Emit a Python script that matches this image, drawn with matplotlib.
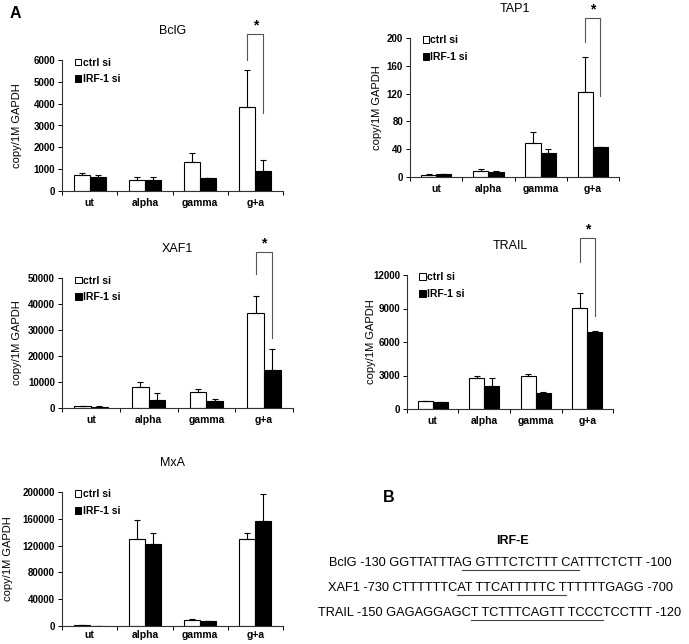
import matplotlib
matplotlib.use("Agg")
import matplotlib.pyplot as plt
import numpy as np
from matplotlib.patches import Patch

plt.rcParams['font.family'] = ['Liberation Sans', 'DejaVu Sans']

groups = ['ut', 'alpha', 'gamma', 'g+a']

# values: (ctrl mean, ctrl err, irf mean, irf err)
bclg_ctrl = [730, 520, 1350, 3830]
bclg_ctrl_err = [80, 100, 400, 1700]
bclg_irf = [640, 520, 600, 920]
bclg_irf_err = [70, 140, 0, 480]

tap1_ctrl = [3, 8, 49, 123]
tap1_ctrl_err = [1.5, 3, 16, 50]
tap1_irf = [4, 7, 34, 43]
tap1_irf_err = [0.3, 2, 7, 0.5]

xaf1_ctrl = [700, 8000, 6100, 36700]
xaf1_ctrl_err = [100, 2000, 1300, 6400]
xaf1_irf = [500, 3200, 2800, 14600]
xaf1_irf_err = [100, 2600, 800, 8200]

trail_ctrl = [720, 2800, 2980, 9020]
trail_ctrl_err = [20, 120, 120, 1370]
trail_irf = [600, 2060, 1430, 6900]
trail_irf_err = [20, 690, 110, 50]

mxa_ctrl = [800, 130500, 8400, 130500]
mxa_ctrl_err = [200, 28000, 1500, 9000]
mxa_irf = [500, 122000, 6900, 157300]
mxa_irf_err = [200, 17500, 300, 39700]

# significance brackets on g+a: (top, left leg end, right leg end)
bclg_sig = (7190, 6000, 3570)
tap1_sig = (229, 194, 117)
xaf1_sig = (60000, 51500, 26900)
trail_sig = (15300, 13160, 8330)

seq_lines = [
    ('BclG -130 ', 'GGTTATTTA', 'G GTTTCTCTTT CA', 'TTTCTCTT -100'),
    ('XAF1 -730 ', 'CTTTTTTC', 'AT TTCATTTTTC T', 'TTTTTGAGG -700'),
    ('TRAIL -150 ', 'GAGAGGAGC', 'T TCTTTCAGTT TCCC', 'TCCTTT -120'),
]

W, H = 689, 644
fig = plt.figure(figsize=(W / 100, H / 100), dpi=100)


def px_axes(x0, y0, x1, y1):
    return fig.add_axes([x0 / W, 1 - y1 / H, (x1 - x0) / W, (y1 - y0) / H])


def panel(ax, title, ctrl, ctrl_err, irf, irf_err, ymax, step, sig, ylab_px):
    x = np.arange(len(groups))
    bw = 0.29
    ax.bar(x - bw / 2, ctrl, bw, color='white', edgecolor='black', lw=0.8,
           yerr=[np.zeros(4), ctrl_err], capsize=2.5,
           error_kw=dict(elinewidth=0.8, capthick=0.8, ecolor='black'))
    ax.bar(x + bw / 2, irf, bw, color='black', edgecolor='black', lw=0.8,
           yerr=[np.zeros(4), irf_err], capsize=2.5,
           error_kw=dict(elinewidth=0.8, capthick=0.8, ecolor='black'))
    ax.set_xlim(-0.5, 3.5)
    ax.set_ylim(0, ymax)
    ax.set_yticks(np.arange(0, ymax + step / 2, step))
    ax.set_xticks(x)
    ax.set_xticklabels(groups, fontsize=7.5, fontweight='bold')
    ax.set_xticks(np.arange(-0.5, 4, 1), minor=True)
    ax.tick_params(axis='x', which='major', length=0, pad=5)
    ax.tick_params(axis='x', which='minor', length=3, width=0.7, direction='out')
    ax.tick_params(axis='y', length=3, width=0.7, labelsize=7, pad=2)
    for lb in ax.get_yticklabels():
        lb.set_fontweight('bold')
    for s in ['top', 'right']:
        ax.spines[s].set_visible(False)
    for s in ['left', 'bottom']:
        ax.spines[s].set_linewidth(0.8)
        ax.spines[s].set_color('#333333')
    ax.set_title(title, fontsize=9, pad=19)
    ax.set_ylabel('copy/1M GAPDH', fontsize=8)
    w_px = ax.get_position().width * W
    ax.yaxis.set_label_coords(-ylab_px / w_px, 0.5)
    handles = [Patch(facecolor='white', edgecolor='black', lw=0.7),
               Patch(facecolor='black', edgecolor='black', lw=0.7)]
    ax.legend(handles, ['ctrl si', 'IRF-1 si'], loc='upper left',
              bbox_to_anchor=(0.04, 1.05), frameon=False,
              prop=dict(size=7.5, weight='bold'), handlelength=0.6,
              handleheight=0.6, handletextpad=0.15, labelspacing=0.65,
              borderaxespad=0)
    if sig is not None:
        top, lft, rgt = sig
        xl, xr = 3 - bw / 2, 3 + bw / 2
        ax.plot([xl, xl, xr, xr], [lft, top, top, rgt], color='#555555',
                lw=0.8, clip_on=False)
        ax.annotate('*', xy=((xl + xr) / 2, top), xytext=(0, 1),
                    textcoords='offset points', ha='center', va='bottom',
                    fontsize=10, fontweight='bold', annotation_clip=False)


ax1 = px_axes(62, 60, 283, 191)
panel(ax1, 'BclG', bclg_ctrl, bclg_ctrl_err, bclg_irf, bclg_irf_err,
      6000, 1000, bclg_sig, 40)
ax2 = px_axes(410, 38, 619, 177)
panel(ax2, 'TAP1', tap1_ctrl, tap1_ctrl_err, tap1_irf, tap1_irf_err,
      200, 40, tap1_sig, 28)
ax3 = px_axes(62, 278, 293, 408)
panel(ax3, 'XAF1', xaf1_ctrl, xaf1_ctrl_err, xaf1_irf, xaf1_irf_err,
      50000, 10000, xaf1_sig, 40)
ax4 = px_axes(407, 275, 613, 409)
panel(ax4, 'TRAIL', trail_ctrl, trail_ctrl_err, trail_irf, trail_irf_err,
      12000, 3000, trail_sig, 31)
ax5 = px_axes(62, 492, 283, 626)
panel(ax5, 'MxA', mxa_ctrl, mxa_ctrl_err, mxa_irf, mxa_irf_err,
      200000, 40000, None, 49)
ax5.tick_params(axis='x', which='major', pad=3)

fig.text(10 / W, 1 - 13 / H, 'A', fontsize=11.5, fontweight='bold', va='center')
fig.text(383 / W, 1 - 498 / H, 'B', fontsize=11.5, fontweight='bold', va='center')
fig.text(512 / W, 1 - 541 / H, 'IRF-E', fontsize=9, fontweight='bold',
         ha='center', va='center')

# sequence lines with underlined IRF-E motif
fig.canvas.draw()
rend = fig.canvas.get_renderer()
seq_fs = 9.2


def wid(s):
    tmp = fig.text(0, 0, s, fontsize=seq_fs)
    w = tmp.get_window_extent(rend).width
    tmp.remove()
    return w


for i, parts in enumerate(seq_lines):
    y = 1 - (563 + 25 * i) / H
    full = ''.join(parts)
    t = fig.text(500 / W, y, full, fontsize=seq_fs, ha='center', va='center')
    bb = t.get_window_extent(rend)
    x0 = bb.x0 + wid(parts[0] + parts[1])
    x1 = bb.x0 + wid(parts[0] + parts[1] + parts[2])
    yl = bb.y0 - 1
    fig.add_artist(plt.Line2D([x0 / W, x1 / W], [yl / H, yl / H],
                              color='#444444', lw=0.8))

fig.savefig('out.png', dpi=100)
